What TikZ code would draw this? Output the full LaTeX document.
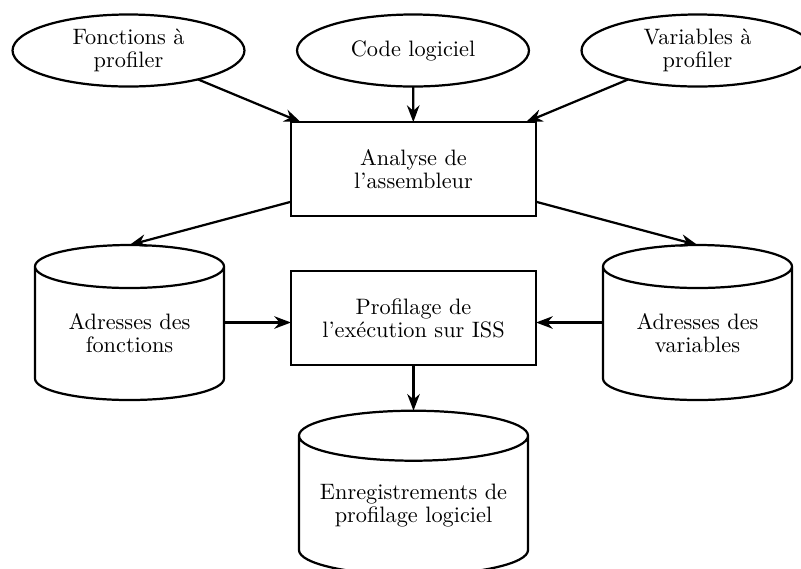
\documentclass[tikz,border=0pt]{standalone}
\usepackage{fontspec}
\usetikzlibrary{shapes.geometric,arrows.meta,calc}

% one drawing unit = one pixel of the 801 x 568 layout grid
\newcommand{\pxl}{0.4484pt}

% cylinder outline around a body node: #1 = node name, #2 = half height of the end ellipses
\newcommand{\drawdrum}[2]{%
  \draw[drumline]
    let \p1 = (#1.north west), \p2 = (#1.north east), \n1 = {(\x2-\x1)/2} in
    (#1.north west) -- ([yshift=#2]#1.south west)
    arc[start angle=180, end angle=360, x radius=\n1, y radius=#2]
    -- (#1.north east)
    arc[start angle=0, end angle=360, x radius=\n1, y radius=#2];
  \coordinate (#1-top) at ([yshift=#2]#1.north);
  \coordinate (#1-mid) at ([yshift=#2/2]#1.center);
}

\begin{document}
\begin{tikzpicture}[
    x=\pxl, y=-\pxl,
    txt/.style={font=\fontsize{10}{10.2}\selectfont, align=center, inner sep=0pt, outer sep=0pt},
    oval/.style={txt, ellipse, draw, line width=1pt, minimum width=104pt, minimum height=32.3pt},
    proc/.style={txt, rectangle, draw, line width=1pt, minimum width=109.9pt, minimum height=42.1pt},
    drumbody/.style={txt, rectangle, minimum width=84.75pt, minimum height=59.86pt},
    bigdrumbody/.style={txt, rectangle, minimum width=102.7pt, minimum height=62.46pt},
    drumline/.style={line width=1pt},
    flow/.style={line width=1pt, -{Stealth}}
  ]
  \useasboundingbox (0,0) rectangle (801,568);

  % inputs
  \node[oval] (fon)  at (128.5,50.5) {Fonctions à\\profiler};
  \node[oval] (code) at (413,50.5)   {Code logiciel};
  \node[oval] (var)  at (697.5,50.5) {Variables à\\profiler};

  % processing steps
  \node[proc] (ana)  at (413.5,169) {Analyse de\\l’assembleur};
  \node[proc] (prof) at (413.5,318) {Profilage de\\l’exécution sur ISS};

  % data stores
  \node[drumbody] (afn)  at (129.5,333.25) {Adresses des\\fonctions};
  \node[drumbody] (avar) at (697.5,333.25) {Adresses des\\variables};
  \node[bigdrumbody] (enr) at (413.5,505.35) {Enregistrements de\\profilage logiciel};
  \drawdrum{afn}{9.64pt}
  \drawdrum{avar}{9.64pt}
  \drawdrum{enr}{11.21pt}

  % connectors
  \draw[flow] (fon) -- (ana);
  \draw[flow] (code) -- (ana);
  \draw[flow] (var) -- (ana);
  \draw[flow] (ana) -- (afn-top);
  \draw[flow] (ana) -- (avar-top);
  \draw[flow] (afn-mid -| afn.east) -- (afn-mid -| prof.west);
  \draw[flow] (avar-mid -| avar.west) -- (avar-mid -| prof.east);
  \draw[flow] (prof) -- (enr-top);
\end{tikzpicture}
\end{document}
